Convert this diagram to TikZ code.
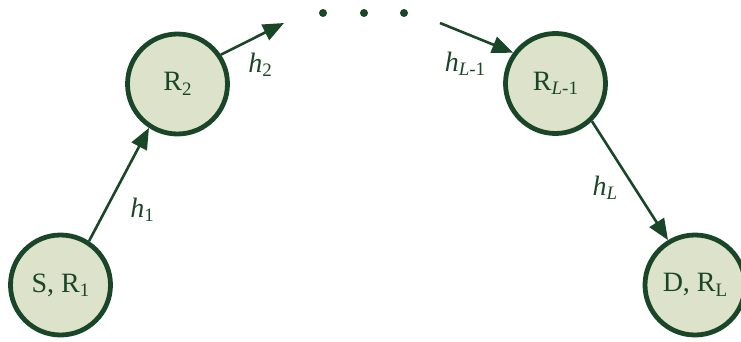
\documentclass[tikz,border=0pt]{standalone}
\usepackage{fontspec}
\setmainfont{Liberation Serif}
\usetikzlibrary{arrows.meta}
\definecolor{dgreen}{HTML}{1A4628}
\definecolor{lgreen}{HTML}{DDE2CB}
\newcommand\mysub[1]{\raisebox{-4.5pt}{\fontsize{19}{19}\selectfont #1}}
\begin{document}
\begin{tikzpicture}[x=1pt,y=1pt,
  relay/.style={circle,draw=dgreen,fill=lgreen,line width=4.8pt,minimum size=100pt,inner sep=0pt,text=dgreen,font=\fontsize{28}{30}\selectfont},
  link/.style={draw=dgreen,line width=2.6pt,-{Triangle[length=21pt,width=17pt]}},
  lab/.style={text=dgreen,font=\fontsize{28}{30}\selectfont,inner sep=0pt},
  dotmark/.style={circle,fill=dgreen,inner sep=0pt,minimum size=8pt}]
\useasboundingbox (0,0) rectangle (741,341);
\node[relay] (S) at (60.5,56) {S, R\mysub{1}};
\node[relay] (R2) at (177.5,257) {R\mysub{2}};
\node[relay] (RL1) at (555.5,257.5) {R\mysub{\textit{L}-1}};
\node[relay] (D) at (695,56) {D, R\mysub{L}};
\coordinate (c2) at (284,318);
\coordinate (c3) at (440,318);
\node[dotmark] (d1) at (323,328) {};
\node[dotmark] (d2) at (364,328) {};
\node[dotmark] (d3) at (404,328) {};
\draw[link] (S.57) -- (R2.237);
\draw[link] (R2.34) -- (c2);
\draw[link] (c3) -- (RL1.144);
\draw[link] (RL1.-46) -- (D.121);
\node[lab] (h1) at (142,131) {\textit{h}\mysub{1}};
\node[lab] (h2) at (260,276) {\textit{h}\mysub{2}};
\node[lab] (hL1) at (465,277) {\textit{h}\mysub{\textit{L}-1}};
\node[lab] (hL) at (605,153) {\textit{h}\mysub{\textit{L}}};
\end{tikzpicture}
\end{document}
